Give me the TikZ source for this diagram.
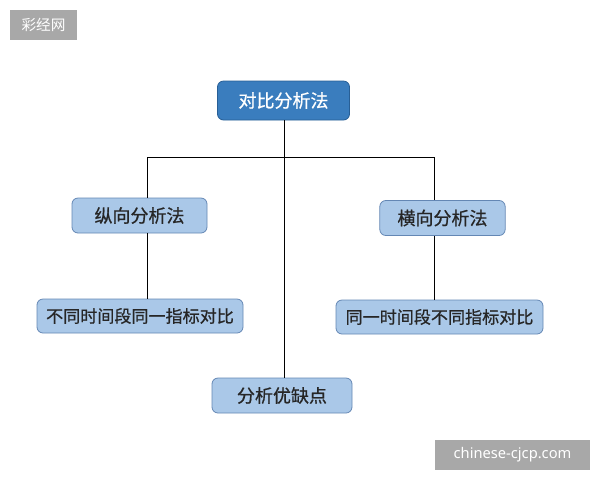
\documentclass[tikz,border=0pt]{standalone}
\usepackage{fontspec}
\usepackage{xcolor}
\usepackage{tikz}
\usetikzlibrary{positioning,calc}
\newfontfamily\cjk[FakeBold=0.8]{Noto Sans CJK SC}
\newfontfamily\wmcjk{Noto Sans CJK SC}
\newfontfamily\wmfont{Noto Sans}
\definecolor{topblue}{RGB}{58,125,190}
\definecolor{topedge}{RGB}{40,95,150}
\definecolor{boxsoft}{RGB}{170,200,232}
\definecolor{boxedge}{RGB}{100,135,180}
\definecolor{wmgray}{RGB}{168,168,168}

\begin{document}
\begin{tikzpicture}[x=0.75pt,y=-0.75pt,font=\cjk\fontsize{13.5}{16}\selectfont]
\tikzset{
  rootbox/.style={draw=topedge,fill=topblue,text=white,rounded corners=4.5pt,line width=0.6pt,inner sep=0pt},
  subbox/.style={draw=boxedge,fill=boxsoft,text=black!85,rounded corners=4.5pt,line width=0.6pt,inner sep=0pt},
  widebox/.style={subbox,font=\cjk\fontsize{12.8}{15}\selectfont},
  wire/.style={draw=black,line width=0.75pt},
  wmark/.style={fill=wmgray,text=white,inner sep=0pt}
}
\useasboundingbox (0,0) rectangle (600,480);
% watermarks
\node[wmark,minimum width=50.25pt,minimum height=22.5pt,font=\wmcjk\fontsize{11}{13}\selectfont] (wmtop) at (43.5,25){彩经网};
\node[wmark,minimum width=116.25pt,minimum height=22.5pt,font=\wmfont\fontsize{11}{13}\selectfont] (wmbot) at (512.5,455){chinese-cjcp.com};
% boxes
\node[rootbox,minimum width=99pt,minimum height=29.25pt] (root) at (283.5,100.5){对比分析法};
\node[subbox,minimum width=101.25pt,minimum height=26.25pt] (zong) at (139.5,215.5){纵向分析法};
\node[subbox,minimum width=94pt,minimum height=26.25pt] (heng) at (442.5,218){横向分析法};
\node[widebox,minimum width=154.5pt,minimum height=25.5pt] (zongsub) at (140,316){不同时间段同一指标对比};
\node[widebox,minimum width=155.25pt,minimum height=25.5pt] (hengsub) at (439.5,317){同一时间段不同指标对比};
\node[subbox,minimum width=105pt,minimum height=26.25pt] (youque) at (282,395.5){分析优缺点};
% connectors
\coordinate (jl) at (147,157);
\coordinate (jc) at (284,157);
\coordinate (jr) at (434,157);
\draw[wire] (root.south -| jc) -- (youque.north -| jc);
\draw[wire] (jl) -- (jr);
\draw[wire] (jl) -- (zong.north -| jl);
\draw[wire] (zong.south -| jl) -- (zongsub.north -| jl);
\draw[wire] (jr) -- (heng.north -| jr);
\draw[wire] (heng.south -| jr) -- (hengsub.north -| jr);
\end{tikzpicture}
\end{document}
